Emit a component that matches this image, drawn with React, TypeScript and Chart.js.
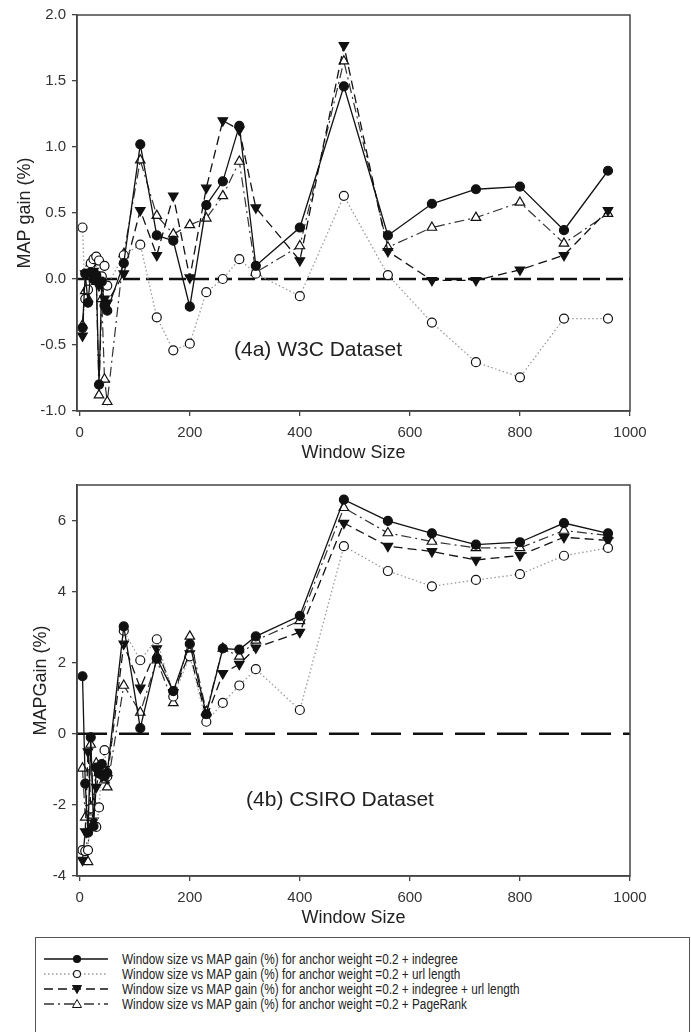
import React, { useEffect, useRef } from "react";
import { Chart, registerables } from "chart.js";
Chart.register(...registerables);

// ---------- data ----------
const windowSizes = [5, 10, 15, 20, 25, 30, 35, 40, 45, 50, 80, 110, 140, 170, 200, 230, 260, 290, 320, 400, 480, 560, 640, 720, 800, 880, 960];

const w3cIndegree = [-0.37, 0.04, -0.18, 0.05, 0.0, 0.03, -0.8, -0.02, -0.2, -0.24, 0.12, 1.02, 0.33, 0.29, -0.21, 0.56, 0.74, 1.16, 0.1, 0.39, 1.46, 0.33, 0.57, 0.68, 0.7, 0.37, 0.82];
const w3cUrlLength = [0.39, -0.15, -0.08, 0.12, 0.15, 0.17, 0.14, 0.02, 0.1, -0.05, 0.18, 0.26, -0.29, -0.54, -0.49, -0.1, 0.0, 0.15, 0.04, -0.13, 0.63, 0.03, -0.33, -0.63, -0.745, -0.3, -0.3];
const w3cIndegreeUrl = [-0.43, 0.04, 0.05, 0.02, 0.06, -0.02, -0.05, -0.02, -0.15, -0.18, 0.04, 0.52, 0.18, 0.63, 0.01, 0.69, 1.2, 1.13, 0.54, 0.14, 1.77, 0.21, -0.01, -0.01, 0.07, 0.18, 0.52];
const w3cPageRank = [-0.35, -0.09, -0.15, 0.12, 0.13, -0.02, -0.88, -0.15, -0.76, -0.93, 0.19, 0.9, 0.48, 0.34, 0.41, 0.46, 0.63, 0.89, 0.05, 0.25, 1.65, 0.24, 0.39, 0.465, 0.58, 0.27, 0.495];

const csiroIndegree = [1.62, -1.4, -2.78, -0.1, -2.6, -0.95, -1.1, -0.85, -1.2, -1.1, 3.02, 0.16, 2.12, 1.2, 2.53, 0.55, 2.4, 2.37, 2.74, 3.32, 6.59, 5.99, 5.64, 5.32, 5.39, 5.93, 5.64];
const csiroUrlLength = [-3.27, -3.3, -3.27, -2.1, -2.6, -2.62, -2.07, -1.0, -0.46, -1.2, 2.9, 2.07, 2.66, 1.05, 2.18, 0.34, 0.87, 1.36, 1.82, 0.67, 5.28, 4.58, 4.15, 4.33, 4.49, 5.01, 5.23];
const csiroIndegreeUrl = [-3.55, -2.75, -0.5, -2.1, -2.45, -1.5, -1.1, -1.2, -1.0, -1.25, 2.53, 1.29, 2.4, 1.17, 2.26, 0.45, 1.7, 1.96, 2.42, 2.86, 5.93, 5.28, 5.13, 4.89, 5.02, 5.53, 5.44];
const csiroPageRank = [-0.97, -2.35, -3.6, -0.3, -1.98, -0.83, -1.1, -1.15, -1.3, -1.5, 1.36, 0.6, 2.07, 0.87, 2.74, 0.62, 2.4, 2.18, 2.63, 3.18, 6.36, 5.65, 5.41, 5.23, 5.23, 5.72, 5.58];

const xTicks = [0, 200, 400, 600, 800, 1000];
const w3cYTicks = [-1, -0.5, 0, 0.5, 1, 1.5, 2];
const csiroYTicks = [-4, -2, 0, 2, 4, 6];

const legendLabels = [
  "Window size vs MAP gain (%) for anchor weight =0.2 + indegree",
  "Window size vs MAP gain (%) for anchor weight =0.2 + url length",
  "Window size vs MAP gain (%) for anchor weight =0.2 + indegree + url length",
  "Window size vs MAP gain (%) for anchor weight =0.2 + PageRank",
];

// ---------- styles ----------
const FONT = "'Liberation Sans', Arial, sans-serif";
const seriesStyles = [
  { borderColor: "#111", borderDash: [] as number[], borderWidth: 1.3, pointStyle: "circle", pointRadius: 4.5, pointRotation: 0, pointBackgroundColor: "#111", pointBorderColor: "#111" },
  { borderColor: "#9a9a9a", borderDash: [1.5, 2.5], borderWidth: 1.3, pointStyle: "circle", pointRadius: 4.5, pointRotation: 0, pointBackgroundColor: "#fff", pointBorderColor: "#111" },
  { borderColor: "#111", borderDash: [9, 5], borderWidth: 1.3, pointStyle: "triangle", pointRadius: 5.5, pointRotation: 180, pointBackgroundColor: "#111", pointBorderColor: "#111" },
  { borderColor: "#333", borderDash: [10, 4, 2, 4], borderWidth: 1.2, pointStyle: "triangle", pointRadius: 5.5, pointRotation: 0, pointBackgroundColor: "#fff", pointBorderColor: "#111" },
];

type Cfg = {
  height: number;
  top: number;
  series: number[][];
  yMin: number;
  yMax: number;
  yTicks: number[];
  yTitle: string;
  yDecimals: number;
  padLeft: number;
  padTop: number;
  yWidth: number;
  xHeight: number;
  zeroDash: number[];
  note: string;
  noteX: number;
  noteY: number;
};

function LineChart(cfg: Cfg) {
  const ref = useRef<HTMLCanvasElement>(null);
  useEffect(() => {
    if (!ref.current) return;
    const datasets: any[] = cfg.series.map((vals, i) => ({
      data: windowSizes.map((x, j) => ({ x, y: vals[j] })),
      ...seriesStyles[i],
      pointBorderWidth: 1.2,
      fill: false,
      tension: 0,
    }));
    datasets.push({
      data: [
        { x: -5, y: 0 },
        { x: 1000, y: 0 },
      ],
      borderColor: "#111",
      borderWidth: 2.6,
      borderDash: cfg.zeroDash,
      pointRadius: 0,
      fill: false,
      order: 5,
    });
    const framePlugin = {
      id: "frame",
      afterDraw(chart: any) {
        const { ctx, chartArea } = chart;
        ctx.save();
        ctx.strokeStyle = "#444";
        ctx.lineWidth = 1.5;
        ctx.strokeRect(chartArea.left, chartArea.top, chartArea.right - chartArea.left, chartArea.bottom - chartArea.top);
        ctx.font = `21px ${FONT}`;
        ctx.fillStyle = "#222";
        ctx.textAlign = "center";
        ctx.textBaseline = "middle";
        ctx.fillText(cfg.note, cfg.noteX, cfg.noteY);
        ctx.restore();
      },
    };
    const chart = new Chart(ref.current, {
      type: "line",
      data: { datasets },
      plugins: [framePlugin],
      options: {
        responsive: false,
        animation: false,
        events: [],
        layout: { padding: { left: cfg.padLeft, top: cfg.padTop, right: 61, bottom: 2 } },
        plugins: { legend: { display: false }, tooltip: { enabled: false } },
        scales: {
          x: {
            type: "linear",
            min: -5,
            max: 1000,
            afterBuildTicks: (s: any) => {
              s.ticks = xTicks.map((v) => ({ value: v }));
            },
            afterFit: (s: any) => {
              s.height = cfg.xHeight;
            },
            ticks: { color: "#333", font: { family: FONT, size: 15 }, padding: 8, maxRotation: 0, callback: (v: any) => String(v) },
            grid: { display: true, drawOnChartArea: false, drawTicks: true, tickLength: 5, color: "#444", lineWidth: 1.3 },
            border: { display: true, color: "#444", width: 1.5 },
            title: { display: true, text: "Window Size", color: "#222", font: { family: FONT, size: 18 }, padding: { top: 4, bottom: 4 } },
          },
          y: {
            type: "linear",
            min: cfg.yMin,
            max: cfg.yMax,
            afterBuildTicks: (s: any) => {
              s.ticks = cfg.yTicks.map((v) => ({ value: v }));
            },
            afterFit: (s: any) => {
              s.width = cfg.yWidth;
            },
            ticks: {
              color: "#333",
              font: { family: FONT, size: 15 },
              padding: 6,
              callback: (v: any) => Number(v).toFixed(cfg.yDecimals),
            },
            grid: { display: true, drawOnChartArea: false, drawTicks: true, tickLength: 5, color: "#444", lineWidth: 1.3 },
            border: { display: true, color: "#444", width: 1.5 },
            title: { display: true, text: cfg.yTitle, color: "#222", font: { family: FONT, size: 18 }, padding: { top: 4, bottom: 4 } },
          },
        },
      } as any,
    });
    return () => chart.destroy();
  }, []);
  return (
    <canvas
      ref={ref}
      width={691}
      height={cfg.height}
      style={{ position: "absolute", left: 0, top: cfg.top, width: 691, height: cfg.height }}
    />
  );
}

function Sample({ i }: { i: number }) {
  const s = seriesStyles[i];
  const dash = s.borderDash.length ? s.borderDash.join(",") : undefined;
  const cx = 33;
  const cy = 7;
  let marker: React.ReactNode;
  if (s.pointStyle === "circle") {
    marker = <circle cx={cx} cy={cy} r={3.5} fill={s.pointBackgroundColor} stroke="#111" strokeWidth={1.1} />;
  } else if (s.pointRotation === 180) {
    marker = <polygon points={`${cx - 4.5},${cy - 3.5} ${cx + 4.5},${cy - 3.5} ${cx},${cy + 4.5}`} fill="#111" stroke="#111" strokeWidth={1} />;
  } else {
    marker = <polygon points={`${cx - 4.5},${cy + 3.5} ${cx + 4.5},${cy + 3.5} ${cx},${cy - 4.5}`} fill="#fff" stroke="#111" strokeWidth={1} />;
  }
  return (
    <svg width={66} height={14} style={{ position: "absolute", left: 8, top: 0 }}>
      <line x1={0} y1={cy} x2={64} y2={cy} stroke={s.borderColor} strokeWidth={s.borderWidth + 0.3} strokeDasharray={dash} />
      {marker}
    </svg>
  );
}

export default function App() {
  return (
    <div style={{ position: "absolute", left: 0, top: 0, width: 691, height: 1032, background: "#fff", overflow: "hidden" }}>
      <LineChart
        height={470}
        top={0}
        series={[w3cIndegree, w3cUrlLength, w3cIndegreeUrl, w3cPageRank]}
        yMin={-1}
        yMax={2}
        yTicks={w3cYTicks}
        yTitle="MAP gain (%)"
        yDecimals={1}
        padLeft={10}
        padTop={13}
        yWidth={67}
        xHeight={57}
        zeroDash={[17, 6]}
        note="(4a) W3C Dataset"
        noteX={318}
        noteY={350}
      />
      <LineChart
        height={465}
        top={470}
        series={[csiroIndegree, csiroUrlLength, csiroIndegreeUrl, csiroPageRank]}
        yMin={-4}
        yMax={7}
        yTicks={csiroYTicks}
        yTitle="MAPGain (%)"
        yDecimals={0}
        padLeft={26}
        padTop={5}
        yWidth={51}
        xHeight={57}
        zeroDash={[30, 12]}
        note="(4b) CSIRO Dataset"
        noteX={340}
        noteY={330}
      />
      <div
        style={{
          position: "absolute",
          left: 35,
          top: 937,
          width: 655,
          height: 110,
          border: "1.5px solid #555",
          boxSizing: "border-box",
        }}
      >
        {legendLabels.map((t, i) => (
          <div key={i} style={{ position: "absolute", left: 0, top: 14 + i * 15, height: 14, width: 650 }}>
            <Sample i={i} />
            <span
              style={{
                position: "absolute",
                left: 86,
                top: -1,
                fontFamily: FONT,
                fontSize: 14,
                lineHeight: "16px",
                color: "#222",
                whiteSpace: "nowrap",
                transform: "scaleX(0.84)",
                transformOrigin: "left center",
              }}
            >
              {t}
            </span>
          </div>
        ))}
      </div>
    </div>
  );
}
